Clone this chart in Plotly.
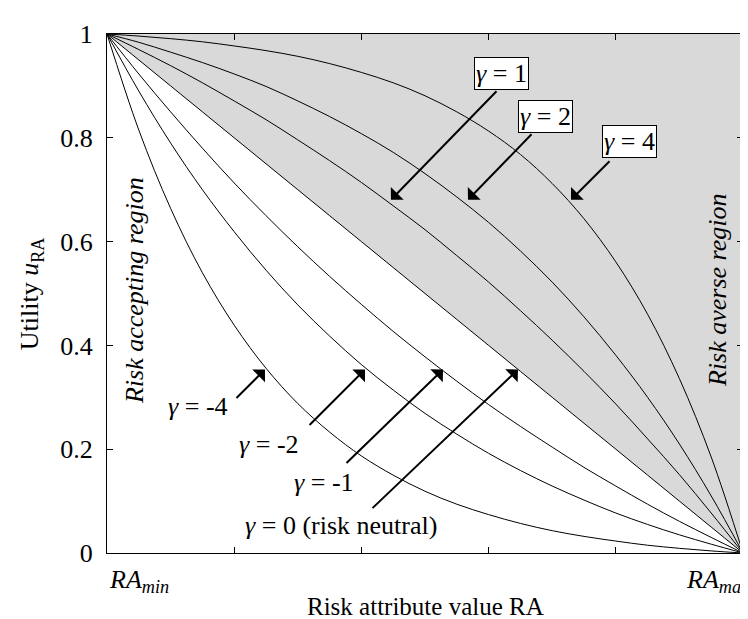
import plotly.graph_objects as go

# Risk attribute value (0 = RA_min, 1 = RA_max)
x_vals = [0.00, 0.05, 0.10, 0.15, 0.20, 0.25, 0.30, 0.35, 0.40, 0.45, 0.50,
          0.55, 0.60, 0.65, 0.70, 0.75, 0.80, 0.85, 0.90, 0.95, 1.00]

# Utility values
u_g4 = [1.000, 0.996, 0.991, 0.985, 0.977, 0.968, 0.957, 0.943, 0.926, 0.906, 0.881,
        0.850, 0.813, 0.768, 0.712, 0.644, 0.561, 0.460, 0.336, 0.185, 0.000]
u_g2 = [1.000, 0.984, 0.965, 0.945, 0.923, 0.899, 0.871, 0.841, 0.808, 0.772, 0.731,
        0.686, 0.637, 0.582, 0.522, 0.455, 0.381, 0.300, 0.210, 0.110, 0.000]
u_g1 = [1.000, 0.970, 0.939, 0.906, 0.871, 0.835, 0.796, 0.756, 0.714, 0.669, 0.623,
        0.573, 0.522, 0.467, 0.410, 0.350, 0.287, 0.220, 0.151, 0.077, 0.000]
u_g0 = [1.000, 0.950, 0.900, 0.850, 0.800, 0.750, 0.700, 0.650, 0.600, 0.550, 0.500,
        0.450, 0.400, 0.350, 0.300, 0.250, 0.200, 0.150, 0.100, 0.050, 0.000]
u_gm1 = [1.000, 0.923, 0.850, 0.780, 0.713, 0.650, 0.590, 0.533, 0.479, 0.427, 0.378,
         0.331, 0.286, 0.244, 0.204, 0.165, 0.129, 0.094, 0.061, 0.030, 0.000]
u_gm2 = [1.000, 0.890, 0.790, 0.700, 0.619, 0.545, 0.478, 0.418, 0.363, 0.314, 0.269,
         0.229, 0.192, 0.159, 0.129, 0.102, 0.077, 0.055, 0.035, 0.017, 0.000]
u_gm4 = [1.000, 0.815, 0.664, 0.540, 0.439, 0.356, 0.288, 0.233, 0.187, 0.150, 0.119,
         0.094, 0.074, 0.057, 0.043, 0.032, 0.023, 0.015, 0.009, 0.004, 0.000]

curves = [u_g4, u_g2, u_g1, u_g0, u_gm1, u_gm2, u_gm4]

y_tick_vals = [0, 0.2, 0.4, 0.6, 0.8, 1.0]
y_tick_text = ["0", "0.2", "0.4", "0.6", "0.8", "1"]
x_tick_vals = [0, 0.2, 0.4, 0.6, 0.8, 1.0]

FONT = "Liberation Serif, Times New Roman, serif"

fig = go.Figure()

# Risk averse region (above the risk neutral line)
fig.add_trace(go.Scatter(
    x=x_vals + [x_vals[-1]], y=u_g0 + [u_g0[0]],
    fill="toself", fillcolor="rgb(217,217,217)",
    line=dict(width=0), mode="lines", hoverinfo="skip", showlegend=False))

for u in curves:
    fig.add_trace(go.Scatter(x=x_vals, y=u, mode="lines",
                             line=dict(color="black", width=1, shape="spline"),
                             showlegend=False))

ann = []

# boxed labels (risk averse)
boxed = [("<i>γ</i> = 1", 0.6195, 0.9244),
         ("<i>γ</i> = 2", 0.6887, 0.8412),
         ("<i>γ</i> = 4", 0.8208, 0.7921)]
for t, x, y in boxed:
    ann.append(dict(text=t, x=x, y=y, xref="x", yref="y", showarrow=False,
                    bgcolor="white", bordercolor="black", borderwidth=1, borderpad=1,
                    font=dict(family=FONT, size=26, color="black")))

plain = [("<i>γ</i> = -4", 0.1431, 0.2817),
         ("<i>γ</i> = -2", 0.2547, 0.2098),
         ("<i>γ</i> = -1", 0.3412, 0.1361),
         ("<i>γ</i> = 0 (risk neutral)", 0.3679, 0.0529)]
for t, x, y in plain:
    ann.append(dict(text=t, x=x, y=y, xref="x", yref="y", showarrow=False,
                    font=dict(family=FONT, size=26, color="black")))

arrows = [(0.4465, 0.6805, 107, -110),
          (0.5676, 0.6805, 65, -67),
          (0.7296, 0.6805, 40, -40),
          (0.2484, 0.3535, -30, 30),
          (0.4057, 0.3535, -57, 57),
          (0.5283, 0.3535, -98, 95),
          (0.6462, 0.3535, -147, 140)]
for x, y, ax, ay in arrows:
    ann.append(dict(text="", x=x, y=y, xref="x", yref="y", ax=ax, ay=ay,
                    showarrow=True, arrowhead=1, arrowsize=1.5, arrowwidth=2,
                    arrowcolor="black", standoff=0))

ann.append(dict(text="<i>Risk accepting region</i>", x=0.0425, y=0.5047, xref="x", yref="y",
                textangle=-90, showarrow=False, font=dict(family=FONT, size=26, color="black")))
ann.append(dict(text="<i>Risk averse region</i>", x=0.9591, y=0.5066, xref="x", yref="y",
                textangle=-90, showarrow=False, font=dict(family=FONT, size=26, color="black")))

ann.append(dict(text="<i>RA<sub>min</sub></i>", x=0, y=-0.053, xref="paper", yref="paper",
                xanchor="left", yanchor="middle", showarrow=False,
                font=dict(family=FONT, size=26, color="black")))
ann.append(dict(text="<i>RA<sub>max</sub></i>", x=1.0, y=-0.053, xref="paper", yref="paper",
                xanchor="right", xshift=8, yanchor="middle", showarrow=False,
                font=dict(family=FONT, size=26, color="black")))

ann.append(dict(text="Risk attribute value RA", x=0.5, y=-0.103, xref="paper", yref="paper",
                xanchor="center", yanchor="middle", showarrow=False,
                font=dict(family=FONT, size=25, color="black")))
ann.append(dict(text="Utility <i>u</i><sub>RA</sub>", x=-0.12, y=0.5, xref="paper", yref="paper",
                xanchor="center", yanchor="middle", textangle=-90, showarrow=False,
                font=dict(family=FONT, size=26, color="black")))

fig.update_layout(
    width=748, height=619,
    margin=dict(l=99, r=13, t=16, b=74),
    plot_bgcolor="white", paper_bgcolor="white",
    font=dict(family=FONT, size=26, color="black"),
    annotations=ann,
    showlegend=False,
)
fig.update_xaxes(range=[0, 1], tickvals=x_tick_vals, showticklabels=False,
                 ticks="inside", ticklen=6, tickcolor="black", mirror="ticks",
                 showline=True, linecolor="black", linewidth=1,
                 showgrid=False, zeroline=False)
fig.update_yaxes(range=[0, 1], tickvals=y_tick_vals, ticktext=y_tick_text,
                 ticks="inside", ticklen=6, tickcolor="black", mirror="ticks",
                 showline=True, linecolor="black", linewidth=1,
                 showgrid=False, zeroline=False, ticklabelstandoff=8,
                 tickfont=dict(family=FONT, size=26, color="black"))

fig.write_html("out.html")
